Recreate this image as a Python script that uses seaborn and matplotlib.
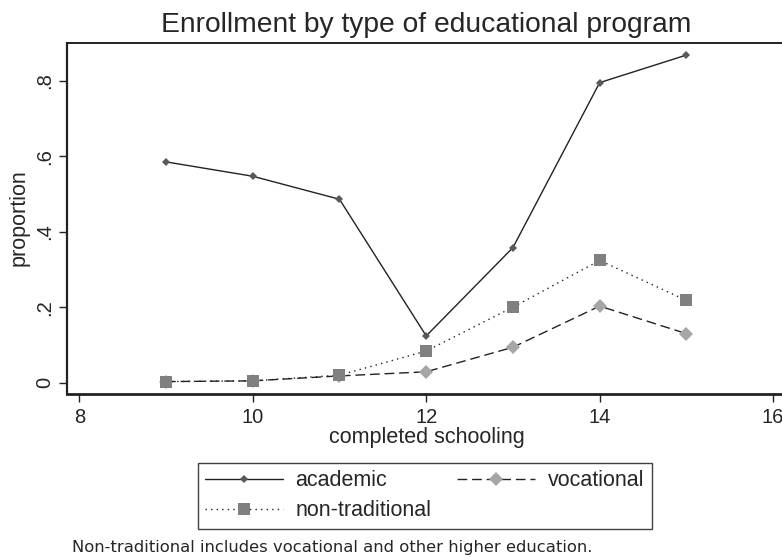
import numpy as np
import pandas as pd
import matplotlib
matplotlib.use('Agg')
import matplotlib.pyplot as plt
import seaborn as sns

# values
schooling = [9, 10, 11, 12, 13, 14, 15]
academic = [0.585, 0.547, 0.486, 0.124, 0.358, 0.795, 0.868]
vocational = [0.003, 0.005, 0.018, 0.029, 0.094, 0.203, 0.130]
non_traditional = [0.003, 0.005, 0.020, 0.084, 0.200, 0.324, 0.218]

x_ticks = [8, 10, 12, 14, 16]
y_ticks = [0, 0.2, 0.4, 0.6, 0.8]
y_tick_labels = ['0', '.2', '.4', '.6', '.8']

sns.set_style('white')
plt.rcParams['font.family'] = ['Liberation Sans', 'DejaVu Sans']

fig = plt.figure(figsize=(7.82, 5.57), dpi=100)
ax = fig.add_axes([0.0853, 0.2935, 0.9211, 0.6298])

sns.lineplot(x=schooling, y=academic, ax=ax, color='#222222', linewidth=1.0,
             marker='D', markersize=4.2, markerfacecolor='#595959',
             markeredgecolor='#595959', markeredgewidth=0, label='academic')
sns.lineplot(x=schooling, y=vocational, ax=ax, color='#222222', linewidth=1.0,
             linestyle=(0, (7, 3.5)), marker='D', markersize=7.2,
             markerfacecolor='#a6a6a6', markeredgecolor='#a6a6a6',
             markeredgewidth=0, label='vocational')
sns.lineplot(x=schooling, y=non_traditional, ax=ax, color='#222222', linewidth=1.0,
             linestyle=(0, (1, 3)), marker='s', markersize=8,
             markerfacecolor='#808080', markeredgecolor='#808080',
             markeredgewidth=0, label='non-traditional')

ax.set_xlim(7.855, 16.16)
ax.set_ylim(-0.0286, 0.9007)
ax.set_xticks(x_ticks)
ax.set_yticks(y_ticks)
ax.set_yticklabels(y_tick_labels)
plt.setp(ax.get_yticklabels(), rotation=90, va='center')
ax.tick_params(axis='both', direction='out', length=5.8, width=1.0,
               color='#222222', labelsize=14.5, bottom=True, left=True)
ax.tick_params(axis='x', pad=4.5)
ax.tick_params(axis='y', pad=3.5)

for side in ['left', 'bottom', 'top']:
    ax.spines[side].set_color('#222222')
ax.spines['left'].set_linewidth(1.6)
ax.spines['bottom'].set_linewidth(2.0)
ax.spines['top'].set_linewidth(1.4)
ax.spines['right'].set_visible(False)

ax.set_xlabel('completed schooling', fontsize=15.5, labelpad=0)
ax.set_ylabel('proportion', fontsize=15.5, labelpad=4)

fig.text(0.545, 0.943, 'Enrollment by type of educational program',
         fontsize=20.3, ha='center', va='baseline')

handles, labels = ax.get_legend_handles_labels()
ax.get_legend().remove()
order = [0, 2, 1]
fig.legend([handles[i] for i in order], [labels[i] for i in order],
           loc='center', bbox_to_anchor=(0.543, 0.1097), ncol=2,
           fontsize=15.5, frameon=True, fancybox=False, edgecolor='#111111',
           handlelength=3.6, handletextpad=0.6, columnspacing=1.2,
           labelspacing=0.42, borderpad=0.35, numpoints=1)

fig.text(72 / 782, 1 - 551.7 / 557,
         'Non-traditional includes vocational and other higher education.',
         fontsize=11.8, family='DejaVu Sans', ha='left', va='baseline')

fig.savefig('out.png', dpi=100, facecolor='white')
